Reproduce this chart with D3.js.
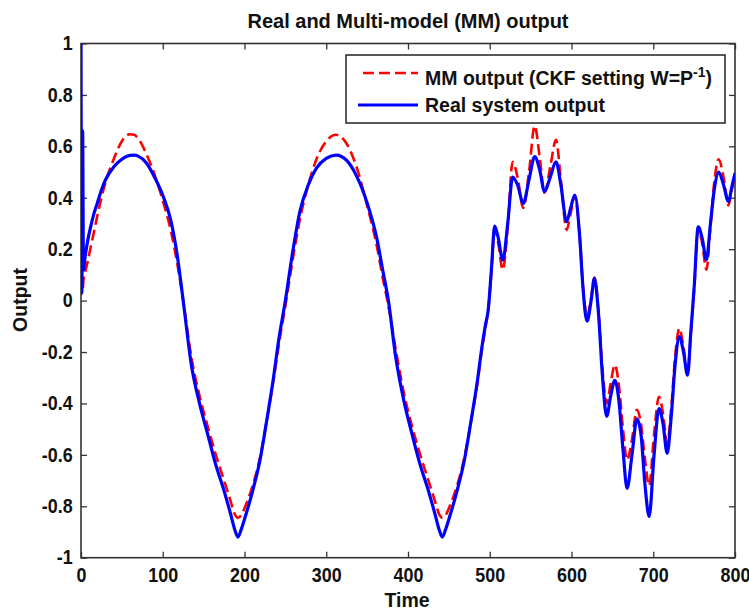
<!DOCTYPE html>
<html>
<head>
<meta charset="utf-8">
<script src="https://cdn.jsdelivr.net/npm/d3@7"></script>
<style>
  body { margin: 0; background: #fff; }
  text { font-family: "Liberation Sans", Arial, sans-serif; font-weight: bold; fill: #111; }
</style>
</head>
<body>
<svg id="chart" width="749" height="610"></svg>
<script>
// Sample instants (time axis)
const timeSteps = [
  0, 1, 2, 3, 5, 8, 12, 16, 20, 25, 30, 40, 50, 60, 65, 70, 80, 90, 100, 110,
  118, 125, 135, 145, 155, 165, 175, 183, 188, 192, 196, 201, 210, 219, 227, 235, 242, 250, 258, 268,
  278, 288, 300, 312, 325, 337, 350, 362, 369, 376, 385, 395, 405, 415, 425, 433, 438, 442, 446, 451,
  460, 469, 477, 485, 490, 495, 498, 502, 506, 510, 516, 522, 528, 534, 541, 548, 555, 561, 567, 574,
  581, 587, 594, 599, 604, 610, 614, 619, 624, 628, 633, 638, 643, 648, 653, 658, 663, 668, 674, 680,
  685, 690, 695, 701, 707, 712, 717, 722, 727, 732, 737, 742, 746, 750, 755, 760, 765, 770, 775, 780,
  786, 792, 796, 800
];

// Real system output
const realOutput = [
  1.0, 0.03, 0.66, 0.12, 0.17, 0.23, 0.29, 0.34, 0.38, 0.43, 0.47, 0.52, 0.55, 0.565, 0.566, 0.562, 0.535, 0.48, 0.41, 0.31,
  0.17, 0.0, -0.25, -0.40, -0.52, -0.64, -0.74, -0.83, -0.89, -0.92, -0.89, -0.84, -0.74, -0.62, -0.47, -0.31, -0.15, 0.0, 0.17, 0.35,
  0.45, 0.515, 0.553, 0.566, 0.545, 0.485, 0.38, 0.24, 0.12, 0.0, -0.22, -0.39, -0.52, -0.64, -0.74, -0.83, -0.89, -0.92, -0.89, -0.84,
  -0.74, -0.62, -0.47, -0.31, -0.19, -0.09, -0.04, 0.12, 0.29, 0.25, 0.158, 0.30, 0.48, 0.45, 0.378, 0.47, 0.56, 0.51, 0.424, 0.48,
  0.54, 0.45, 0.307, 0.36, 0.41, 0.25, 0.05, -0.08, 0.0, 0.087, -0.05, -0.30, -0.45, -0.37, -0.31, -0.39, -0.58, -0.73, -0.60, -0.46,
  -0.52, -0.72, -0.84, -0.60, -0.42, -0.48, -0.594, -0.45, -0.24, -0.14, -0.20, -0.29, -0.12, 0.05, 0.287, 0.24, 0.158, 0.30, 0.44, 0.50,
  0.45, 0.385, 0.44, 0.496
];

// Multi-model output (CKF, W = P^-1)
const mmOutput = [
  0.02, 0.18, 0.04, 0.08, 0.11, 0.15, 0.21, 0.27, 0.33, 0.40, 0.46, 0.55, 0.62, 0.647, 0.645, 0.63, 0.57, 0.49, 0.39, 0.27,
  0.14, 0.0, -0.22, -0.37, -0.49, -0.60, -0.70, -0.78, -0.83, -0.845, -0.835, -0.80, -0.72, -0.61, -0.47, -0.32, -0.17, -0.02, 0.14, 0.32,
  0.45, 0.55, 0.62, 0.645, 0.61, 0.52, 0.37, 0.21, 0.09, -0.02, -0.19, -0.36, -0.49, -0.60, -0.70, -0.78, -0.83, -0.845, -0.835, -0.80,
  -0.72, -0.61, -0.47, -0.32, -0.20, -0.10, -0.04, 0.11, 0.28, 0.23, 0.12, 0.29, 0.54, 0.48, 0.36, 0.50, 0.68, 0.56, 0.42, 0.52,
  0.625, 0.47, 0.275, 0.34, 0.41, 0.25, 0.06, -0.06, 0.01, 0.09, -0.04, -0.27, -0.40, -0.32, -0.25, -0.33, -0.50, -0.62, -0.54, -0.425,
  -0.48, -0.62, -0.72, -0.52, -0.374, -0.44, -0.555, -0.42, -0.21, -0.108, -0.18, -0.277, -0.13, 0.04, 0.28, 0.22, 0.12, 0.29, 0.47, 0.55,
  0.48, 0.37, 0.43, 0.49
];

const xTicks = [0, 100, 200, 300, 400, 500, 600, 700, 800];
const xTickLabels = ["0", "100", "200", "300", "400", "500", "600", "700", "800"];
const yTicks = [-1, -0.8, -0.6, -0.4, -0.2, 0, 0.2, 0.4, 0.6, 0.8, 1];
const yTickLabels = ["-1", "-0.8", "-0.6", "-0.4", "-0.2", "0", "0.2", "0.4", "0.6", "0.8", "1"];

const seriesNames = ["MM output (CKF setting W=P", "Real system output"];

const svg = d3.select("#chart");
const plot = { left: 81, right: 735, top: 43.5, bottom: 557.7 };

const x = d3.scaleLinear().domain([0, 800]).range([plot.left, plot.right]);
const y = d3.scaleLinear().domain([-1, 1]).range([plot.bottom, plot.top]);

svg.append("defs").append("clipPath").attr("id", "plot-clip")
  .append("rect")
  .attr("x", plot.left).attr("y", plot.top)
  .attr("width", plot.right - plot.left).attr("height", plot.bottom - plot.top);

const axisColor = "#333";
const fontSize = 19.5;

// Axes with inward ticks on all four sides
const bottomAxis = svg.append("g")
  .attr("transform", `translate(0,${plot.bottom})`)
  .call(d3.axisBottom(x).tickValues(xTicks).tickFormat((d, i) => xTickLabels[i])
    .tickSizeInner(-6).tickSizeOuter(0).tickPadding(10));
const leftAxis = svg.append("g")
  .attr("transform", `translate(${plot.left},0)`)
  .call(d3.axisLeft(y).tickValues(yTicks).tickFormat((d, i) => yTickLabels[i])
    .tickSizeInner(-6).tickSizeOuter(0).tickPadding(9));
const topAxis = svg.append("g")
  .attr("transform", `translate(0,${plot.top})`)
  .call(d3.axisTop(x).tickValues(xTicks).tickFormat("").tickSizeInner(-6).tickSizeOuter(0));
const rightAxis = svg.append("g")
  .attr("transform", `translate(${plot.right},0)`)
  .call(d3.axisRight(y).tickValues(yTicks).tickFormat("").tickSizeInner(-6).tickSizeOuter(0));

[bottomAxis, leftAxis, topAxis, rightAxis].forEach(g => {
  g.select(".domain").remove();
  g.selectAll(".tick line").attr("stroke", axisColor).attr("stroke-width", 1.3);
  g.selectAll(".tick text")
    .attr("font-family", "Liberation Sans, Arial, sans-serif")
    .attr("font-weight", "bold")
    .attr("font-size", fontSize)
    .attr("fill", "#111")
    .attr("transform", "scale(0.92,1)");
});

svg.append("rect")
  .attr("x", plot.left).attr("y", plot.top)
  .attr("width", plot.right - plot.left).attr("height", plot.bottom - plot.top)
  .attr("fill", "none").attr("stroke", axisColor).attr("stroke-width", 1.6);

// Curves
const line = (values) => d3.line()
  .x((d, i) => x(timeSteps[i]))
  .y(d => y(d))
  .curve(d3.curveMonotoneX)(values);

const curves = svg.append("g").attr("clip-path", "url(#plot-clip)");
curves.append("path")
  .attr("d", line(mmOutput))
  .attr("fill", "none")
  .attr("stroke", "#ff0000")
  .attr("stroke-width", 2.6)
  .attr("stroke-dasharray", "11,5");
curves.append("path")
  .attr("d", line(realOutput))
  .attr("fill", "none")
  .attr("stroke", "#0000ff")
  .attr("stroke-width", 3.2)
  .attr("stroke-linejoin", "round");

// Title and axis labels
svg.append("text")
  .attr("x", 408).attr("y", 28)
  .attr("text-anchor", "middle")
  .attr("font-size", 20)
  .text("Real and Multi-model (MM) output");

svg.append("text")
  .attr("x", 407).attr("y", 607)
  .attr("text-anchor", "middle")
  .attr("font-size", fontSize)
  .text("Time");

svg.append("text")
  .attr("transform", "translate(26.5,300) rotate(-90)")
  .attr("text-anchor", "middle")
  .attr("font-size", fontSize)
  .text("Output");

// Legend
const legend = svg.append("g");
legend.append("rect")
  .attr("x", 346).attr("y", 55).attr("width", 379).attr("height", 68)
  .attr("fill", "#fff").attr("stroke", "#222").attr("stroke-width", 1.5);

legend.append("line")
  .attr("x1", 363).attr("x2", 418).attr("y1", 73).attr("y2", 73)
  .attr("stroke", "#ff0000").attr("stroke-width", 2.6).attr("stroke-dasharray", "11,5");
legend.append("line")
  .attr("x1", 358).attr("x2", 418).attr("y1", 105).attr("y2", 105)
  .attr("stroke", "#0000ff").attr("stroke-width", 3.2);

const mmLabel = legend.append("text")
  .attr("x", 425).attr("y", 85)
  .attr("font-size", fontSize);
mmLabel.append("tspan").text(seriesNames[0]);
mmLabel.append("tspan").attr("dy", -8).attr("font-size", 14).text("-1");
mmLabel.append("tspan").attr("dy", 8).text(")");

legend.append("text")
  .attr("x", 425).attr("y", 112)
  .attr("font-size", fontSize)
  .text(seriesNames[1]);
</script>
</body>
</html>
